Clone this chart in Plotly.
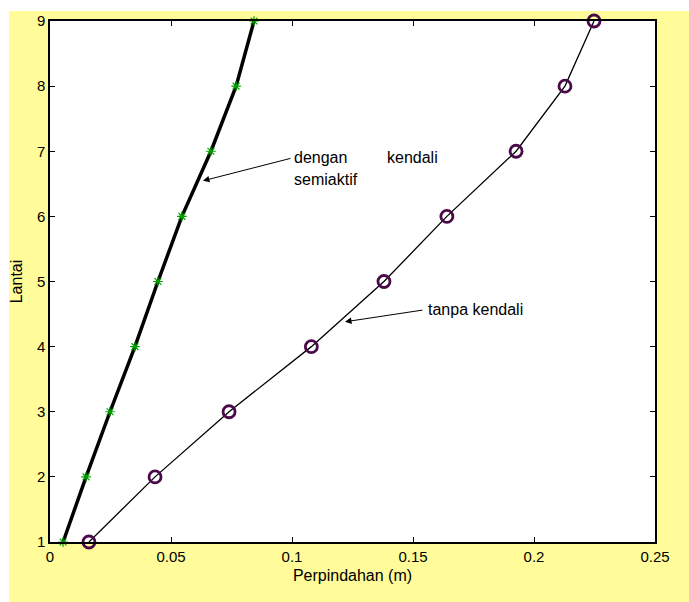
import plotly.graph_objects as go

floors = [1, 2, 3, 4, 5, 6, 7, 8, 9]
tanpa_kendali = [0.0161, 0.0434, 0.0740, 0.1080, 0.1380, 0.1640, 0.1926, 0.2128, 0.2248]
semiaktif = [0.0054, 0.0149, 0.0248, 0.0351, 0.0446, 0.0545, 0.0665, 0.0769, 0.0843]
x_ticks = [0, 0.05, 0.1, 0.15, 0.2, 0.25]
x_ticklabels = ["0", "0.05", "0.1", "0.15", "0.2", "0.25"]
y_ticks = floors

YEL = "#FFFC99"
FONT = "Liberation Sans, Arial, Helvetica, sans-serif"

fig = go.Figure()
fig.add_trace(go.Scatter(
    x=semiaktif, y=floors, mode="lines+markers",
    line=dict(color="black", width=3.5),
    marker=dict(symbol="asterisk-open", size=8, color="#00A000",
                line=dict(color="#00A000", width=1.2)),
    showlegend=False, cliponaxis=False))
fig.add_trace(go.Scatter(
    x=tanpa_kendali, y=floors, mode="lines+markers",
    line=dict(color="black", width=1.3),
    marker=dict(symbol="circle-open", size=12, color="#4A0A4A",
                line=dict(color="#4A0A4A", width=2.8)),
    showlegend=False, cliponaxis=False))

axis_common = dict(showline=True, linecolor="black", linewidth=1.5, mirror="ticks",
                   ticks="inside", ticklen=5, tickcolor="black", showgrid=False,
                   zeroline=False, tickfont=dict(family=FONT, size=15, color="black"))

fig.update_xaxes(range=[0, 0.25], tickvals=x_ticks, ticktext=x_ticklabels,
                 title=dict(text="Perpindahan (m)", font=dict(family=FONT, size=16, color="black"),
                            standoff=6), **axis_common)
fig.update_yaxes(range=[1, 9], tickvals=y_ticks,
                 title=dict(text="Lantai", font=dict(family=FONT, size=16, color="black"),
                            standoff=10), **axis_common)

ann_font = dict(family=FONT, size=16, color="black")
annotations = [
    dict(x=0.0632, y=6.546, ax=0.1, ay=6.896, axref="x", ayref="y", xref="x", yref="y",
         text="", showarrow=True, arrowhead=2, arrowsize=1.3, arrowwidth=1, arrowcolor="black"),
    dict(x=0.1219, y=4.381, ax=0.1545, ay=4.564, axref="x", ayref="y", xref="x", yref="y",
         text="", showarrow=True, arrowhead=2, arrowsize=1.3, arrowwidth=1, arrowcolor="black"),
    dict(x=0.1, y=6.90, xref="x", yref="y", text="dengan", showarrow=False,
         xanchor="left", yanchor="middle", font=ann_font),
    dict(x=0.1384, y=6.90, xref="x", yref="y", text="kendali", showarrow=False,
         xanchor="left", yanchor="middle", font=ann_font),
    dict(x=0.1, y=6.56, xref="x", yref="y", text="semiaktif", showarrow=False,
         xanchor="left", yanchor="middle", font=ann_font),
    dict(x=0.1554, y=4.564, xref="x", yref="y", text="tanpa kendali", showarrow=False,
         xanchor="left", yanchor="middle", font=ann_font),
]

shapes = [
    dict(type="rect", xref="paper", yref="paper", x0=-0.1, x1=(9 - 50) / 605, y0=-0.2, y1=1.1,
         fillcolor="white", line=dict(width=0), layer="above"),
    dict(type="rect", xref="paper", yref="paper", x0=-0.1, x1=1.2, y0=(542 - 7) / 525, y1=1.1,
         fillcolor="white", line=dict(width=0), layer="above"),
]

fig.update_layout(
    width=689, height=602,
    margin=dict(l=50, r=34, t=17, b=60),
    paper_bgcolor=YEL, plot_bgcolor="white",
    annotations=annotations, shapes=shapes,
    font=dict(family=FONT, size=15, color="black"),
)

fig.write_html("out.html")
